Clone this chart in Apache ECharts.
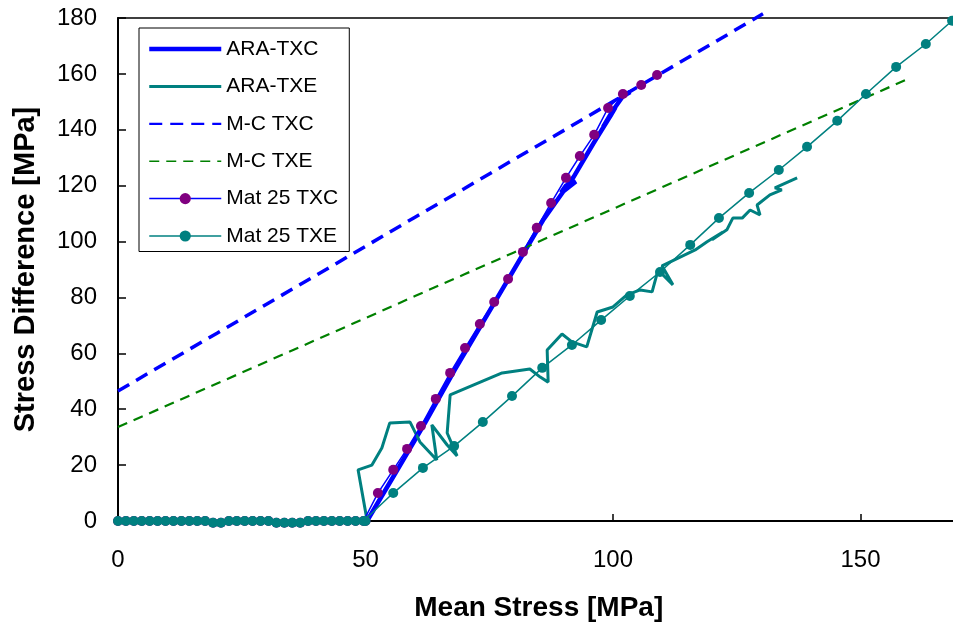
<!DOCTYPE html>
<html>
<head>
<meta charset="utf-8">
<script src="https://cdn.jsdelivr.net/npm/echarts@6/dist/echarts.min.js"></script>
<style>
html,body{margin:0;padding:0;background:#fff;}
#chart{width:953px;height:627px;}
</style>
</head>
<body>
<div id="chart"></div>
<script>
// ---- Data ----
const xTickLabels = [0, 50, 100, 150];
const yTickLabels = [0, 20, 40, 60, 80, 100, 120, 140, 160, 180];

const araTxcX = [50.3, 56, 62, 68, 74, 80, 86, 90, 92.5, 90.5, 89.5, 92, 96, 99.5, 100.5, 99, 98, 100, 102, 103.5];
const araTxcY = [0, 17, 35, 54, 72, 90, 108, 118, 121.5, 120, 117.5, 123, 135, 145, 148, 144, 141, 147, 152, 153.5];

const araTxeX = [50.3, 48.5, 51.3, 53.3, 54.9, 59.0, 61.0, 64.4, 63.4, 66.5, 68.5, 66.5, 67.1, 77.6, 83.2, 85.3, 86.9, 86.7, 89.7, 91.7, 94.7, 96.8, 100.0, 102.8, 105.5, 107.9, 109.1, 112.1, 109.9, 116.6, 119.0, 122.2, 120.0, 123.0, 124.2, 126.1, 127.7, 129.7, 129.1, 131.7, 134.1, 132.7, 137.2];
const araTxeY = [0.4, 18.3, 20.0, 26.1, 35.1, 35.4, 28.3, 21.8, 34.4, 27.2, 23.3, 31.5, 45.1, 53.0, 54.4, 51.5, 49.7, 61.2, 66.9, 64.1, 62.3, 74.8, 76.6, 80.9, 82.7, 82.0, 89.8, 84.5, 91.3, 97.0, 99.9, 103.4, 100.6, 104.2, 108.4, 108.4, 111.3, 109.5, 113.1, 116.7, 118.5, 119.2, 122.8];

const mcTxcX = [0, 10, 20, 30, 40, 50, 60, 70, 80, 90, 100, 110, 120, 130.3];
const mcTxcY = [46.5, 56.9, 67.2, 77.6, 87.9, 98.3, 108.7, 119.0, 129.4, 139.7, 150.1, 160.5, 170.8, 181.5];

const mcTxeX = [0, 10, 20, 30, 40, 50, 60, 70, 80, 90, 100, 110, 120, 130, 140, 150, 159.6];
const mcTxeY = [33.6, 41.4, 49.2, 57.0, 64.8, 72.6, 80.5, 88.3, 96.1, 103.9, 111.7, 119.5, 127.3, 135.1, 142.9, 150.7, 158.2];

const mat25ZeroX = [0, 1.6, 3.2, 4.8, 6.4, 8.0, 9.6, 11.2, 12.8, 14.4, 16.0, 17.6, 19.2, 20.8, 22.4, 24.0, 25.6, 27.2, 28.8, 30.4, 32.0, 33.6, 35.2, 36.8, 38.4, 40.0, 41.6, 43.2, 44.8, 46.4, 48.0, 49.6];
const mat25TxeZeroY = [0, 0, 0, 0, 0, 0, 0, 0, 0, 0, 0, 0, -0.6, -0.6, 0, 0, 0, 0, 0, 0, -0.6, -0.6, -0.6, -0.6, 0, 0, 0, 0, 0, 0, 0, 0];
const mat25TxcZeroY = [0, 0, 0, 0, 0, 0, 0, 0, 0, 0, 0, 0, -0.6, -0.6, 0, 0, 0, 0, 0, 0, -0.6, -0.6, -0.6, -0.6, 0, 0, 0, 0, 0, 0, 0, 0];

const mat25TxcX = [50.0, 52.5, 55.6, 58.4, 61.2, 64.2, 67.1, 70.1, 73.1, 76.0, 78.8, 81.8, 84.6, 87.5, 90.5, 93.3, 96.2, 99.0, 102.0, 105.7, 108.9];
const mat25TxcY = [0, 10.0, 18.3, 25.8, 34.0, 43.7, 53.0, 61.9, 70.5, 78.4, 86.6, 96.3, 104.9, 113.8, 122.8, 130.6, 138.2, 147.8, 152.8, 156.0, 159.6];

const mat25TxeX = [50.0, 55.6, 61.6, 67.9, 73.7, 79.6, 85.7, 91.7, 97.6, 103.4, 109.5, 115.6, 121.4, 127.5, 133.5, 139.2, 145.3, 151.1, 157.2, 163.2, 168.5];
const mat25TxeY = [0, 10.0, 19.0, 26.8, 35.4, 44.7, 54.8, 63.0, 71.9, 80.5, 89.1, 98.8, 108.4, 117.4, 125.6, 133.9, 143.2, 152.8, 162.5, 170.7, 179.0];

const seriesNames = ['ARA-TXC', 'ARA-TXE', 'M-C TXC', 'M-C TXE', 'Mat 25 TXC', 'Mat 25 TXE'];
const legendLineWidths = [4.5, 3, 2.2, 1.6, 1.5, 1.5];
const lineOnly = ['ARA-TXC', 'ARA-TXE', 'M-C TXC', 'M-C TXE'];

function zip(xs, ys) { return xs.map((x, i) => [x, ys[i]]); }

const FONT = "'Liberation Sans', Arial, sans-serif";
const chart = echarts.init(document.getElementById('chart'), null, {renderer: 'canvas'});

chart.setOption({
  animation: false,
  backgroundColor: '#ffffff',
  grid: {
    left: 118, top: 18, width: 841.5, height: 503,
    outerBoundsMode: 'none', containLabel: false,
    show: true, borderColor: '#000', borderWidth: 1.5, backgroundColor: 'transparent'
  },
  legend: {
    orient: 'vertical',
    left: 139, top: 28,
    padding: [10.5, 11, 5, 8],
    itemWidth: 72, itemHeight: 14, itemGap: 16.4, itemTextGap: 4,
    borderColor: '#000', borderWidth: 1,
    backgroundColor: '#fff',
    textStyle: {fontFamily: FONT, fontSize: 21, color: '#000'},
    data: seriesNames.map((n, i) => lineOnly.indexOf(n) >= 0
      ? {name: n, lineStyle: {width: legendLineWidths[i]},
         itemStyle: {color: 'rgba(0,0,0,0)', borderWidth: 0, opacity: 0}}
      : {name: n, lineStyle: {width: legendLineWidths[i]}})
  },
  xAxis: {
    type: 'value', min: 0, max: 170, interval: 50,
    name: 'Mean Stress [MPa]', nameLocation: 'middle', nameGap: 73,
    nameTextStyle: {fontFamily: FONT, fontSize: 28, fontWeight: 'bold', color: '#000'},
    axisLine: {show: true, lineStyle: {color: '#000', width: 2}},
    axisTick: {show: true, inside: true, length: 7, lineStyle: {color: '#000', width: 1.5}},
    axisLabel: {fontFamily: FONT, fontSize: 24, color: '#000', margin: 27, showMaxLabel: false,
      formatter: v => (xTickLabels.indexOf(v) >= 0 ? String(v) : '')},
    splitLine: {show: false}
  },
  yAxis: {
    type: 'value', min: 0, max: 180, interval: 20,
    name: 'Stress Difference [MPa]', nameLocation: 'middle', nameGap: 78,
    nameTextStyle: {fontFamily: FONT, fontSize: 29, fontWeight: 'bold', color: '#000'},
    axisLine: {show: true, lineStyle: {color: '#000', width: 2}},
    axisTick: {show: true, inside: true, length: 8, lineStyle: {color: '#000', width: 1.5}},
    axisLabel: {fontFamily: FONT, fontSize: 24, color: '#000', margin: 21,
      formatter: v => (yTickLabels.indexOf(v) >= 0 ? String(v) : '')},
    splitLine: {show: false}
  },
  series: [
    {
      name: 'ARA-TXC', type: 'line', symbol: 'none',
      data: zip(araTxcX, araTxcY),
      lineStyle: {color: '#0000ff', width: 4.5}, itemStyle: {color: '#0000ff'}
    },
    {
      name: 'ARA-TXE', type: 'line', symbol: 'none',
      data: zip(araTxeX, araTxeY),
      lineStyle: {color: '#008080', width: 3}, itemStyle: {color: '#008080'}
    },
    {
      name: 'M-C TXC', type: 'line', symbol: 'none', clip: false,
      data: zip(mcTxcX, mcTxcY),
      lineStyle: {color: '#0000ff', width: 3.5, type: [13, 8]}, itemStyle: {color: '#0000ff'}
    },
    {
      name: 'M-C TXE', type: 'line', symbol: 'none',
      data: zip(mcTxeX, mcTxeY),
      lineStyle: {color: '#008000', width: 2.2, type: [10, 7]}, itemStyle: {color: '#008000'}
    },
    {
      name: 'Mat 25 TXC', type: 'line', symbol: 'circle', symbolSize: 10, clip: false,
      data: zip(mat25ZeroX, mat25TxcZeroY).concat(zip(mat25TxcX, mat25TxcY)),
      lineStyle: {color: '#0000ff', width: 1.5}, itemStyle: {color: '#800080'}
    },
    {
      name: 'Mat 25 TXE', type: 'line', symbol: 'circle', symbolSize: 10, clip: false,
      data: zip(mat25ZeroX, mat25TxeZeroY).concat(zip(mat25TxeX, mat25TxeY)),
      lineStyle: {color: '#008080', width: 1.5}, itemStyle: {color: '#008080'}
    }
  ]
});
</script>
</body>
</html>
